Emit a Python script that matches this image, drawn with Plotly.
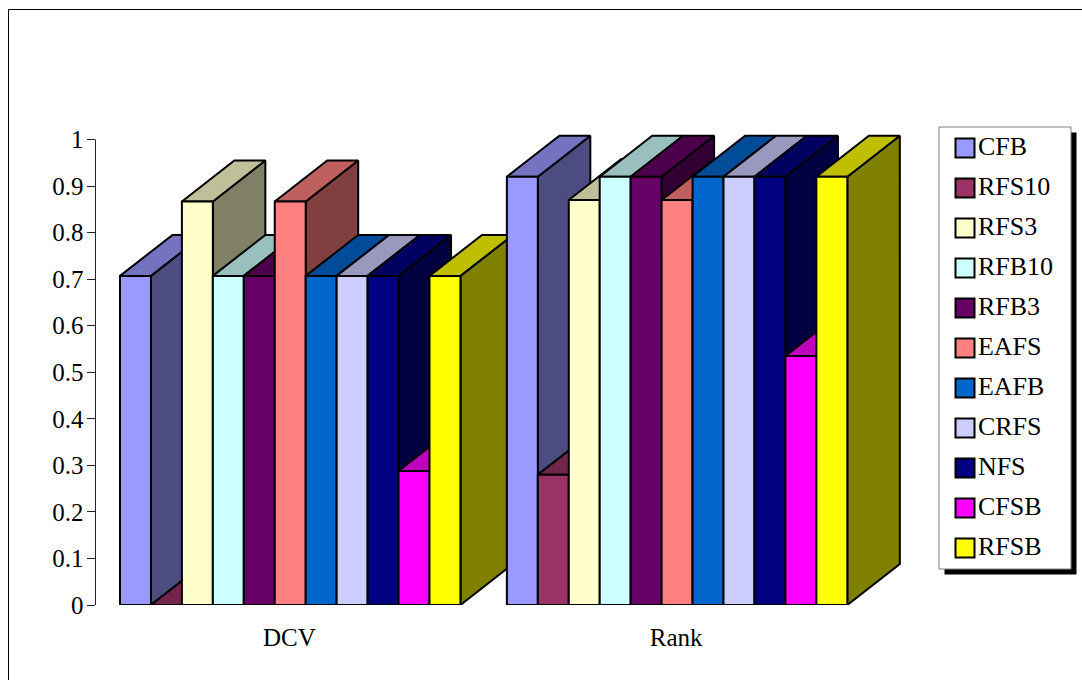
import plotly.graph_objects as go

# Feature-selection methods and their scores per evaluation scheme
methods = ["CFB", "RFS10", "RFS3", "RFB10", "RFB3", "EAFS", "EAFB", "CRFS", "NFS", "CFSB", "RFSB"]
groups = ["DCV", "Rank"]
dcv_scores = [0.707, 0.0, 0.867, 0.707, 0.707, 0.867, 0.707, 0.707, 0.707, 0.288, 0.707]
rank_scores = [0.92, 0.28, 0.87, 0.92, 0.92, 0.87, 0.92, 0.92, 0.92, 0.535, 0.92]
colors = ["#9999FF", "#993366", "#FFFFCC", "#CCFFFF", "#660066", "#FF8080",
          "#0066CC", "#CCCCFF", "#000080", "#FF00FF", "#FFFF00"]
y_ticks = [0, 0.1, 0.2, 0.3, 0.4, 0.5, 0.6, 0.7, 0.8, 0.9, 1]

WIDTH, HEIGHT = 1082, 680
BAR_PX = 30.95          # width of one bar on screen
FIRST_BAR_PX = 120      # left edge of the first bar
AXIS_PX = 95.5          # position of the value axis
ZERO_PX, ONE_PX = 605, 139.5
Y_HEADROOM = 0.05       # room above 1 for the depth of the tallest bars
GROUP_PITCH = 12.5      # group-to-group distance, in bar widths
DEPTH_X = 52.5 / BAR_PX
DEPTH_Y = 41 / (ZERO_PX - ONE_PX)
EDGE = dict(color="black", width=2)
AXIS_COLOR = "#222222"
FONT = "Liberation Serif"


def shade(hex_color, factor):
    r, g, b = (int(hex_color[i:i + 2], 16) for i in (1, 3, 5))
    return f"rgb({r * factor:.0f},{g * factor:.0f},{b * factor:.0f})"


def face(xs, ys, fill, name):
    return go.Scatter(x=xs, y=ys, mode="lines", fill="toself", fillcolor=fill, line=EDGE,
                      showlegend=False, name=name, hoverinfo="name")


fig = go.Figure()

# Extruded bars, painted left to right so each one hides the side of its neighbour
for g, (group, scores) in enumerate(zip(groups, [dcv_scores, rank_scores])):
    for i, (method, value, color) in enumerate(zip(methods, scores, colors)):
        x0 = g * GROUP_PITCH + i
        x1 = x0 + 1
        label = f"{method} / {group}: {value}"
        fig.add_trace(face([x1, x1 + DEPTH_X, x1 + DEPTH_X, x1, x1],
                           [0, DEPTH_Y, value + DEPTH_Y, value, 0],
                           shade(color, 0.5), label))
        fig.add_trace(face([x0, x1, x1 + DEPTH_X, x0 + DEPTH_X, x0],
                           [value, value, value + DEPTH_Y, value + DEPTH_Y, value],
                           shade(color, 0.75), label))
        fig.add_trace(face([x0, x1, x1, x0, x0], [0, 0, value, value, 0], color, label))

# Legend panel: one square marker and label per method
fig.add_trace(go.Scatter(
    x=[(965 - 939) / 132] * len(methods), y=list(range(len(methods))),
    xaxis="x2", yaxis="y2", mode="markers+text",
    marker=dict(symbol="square", size=19, color=colors, line=dict(color="black", width=2)),
    text=methods, textposition="middle right",
    textfont=dict(family=FONT, size=26, color="black"),
    showlegend=False, hoverinfo="text",
))


def px_x(px):
    return px / WIDTH


def px_y(px):
    return 1 - px / HEIGHT


box = dict(left=939, right=1071, top=127, bottom=569)
shadow = 5.5
rows = len(methods)
shapes = [
    # Outer chart frame, running off the right and bottom of the page
    dict(type="rect", xref="paper", yref="paper", x0=px_x(8.5), x1=1.2, y0=-0.2, y1=px_y(9.5),
         line=dict(color="black", width=1), layer="below"),
    dict(type="rect", xref="paper", yref="paper",
         x0=px_x(box["left"] + shadow), x1=px_x(box["right"] + shadow),
         y0=px_y(box["bottom"] + shadow), y1=px_y(box["top"] + shadow),
         fillcolor="black", line=dict(width=0), layer="below"),
    dict(type="rect", xref="paper", yref="paper",
         x0=px_x(box["left"]), x1=px_x(box["right"]),
         y0=px_y(box["bottom"]), y1=px_y(box["top"]),
         fillcolor="white", line=dict(color="#808080", width=1), layer="below"),
    # Value axis line stops at 1, below the headroom of the plot area
    dict(type="line", xref="x domain", yref="y", x0=0, x1=0, y0=0, y1=1,
         line=dict(color=AXIS_COLOR, width=1), layer="below"),
]

top_px = ONE_PX - Y_HEADROOM * (ZERO_PX - ONE_PX)

fig.update_layout(
    width=WIDTH, height=HEIGHT, margin=dict(l=0, r=0, t=0, b=0, autoexpand=False),
    paper_bgcolor="white", plot_bgcolor="rgba(0,0,0,0)",
    font=dict(family=FONT, size=24, color="black"),
    showlegend=False, shapes=shapes,
    xaxis=dict(
        domain=[px_x(AXIS_PX), 1], automargin=False,
        range=[(AXIS_PX - FIRST_BAR_PX) / BAR_PX, (WIDTH - FIRST_BAR_PX) / BAR_PX],
        tickmode="array",
        tickvals=[g * GROUP_PITCH + len(methods) / 2 - 0.03 for g in range(len(groups))],
        ticktext=groups, ticks="outside", ticklen=10, tickcolor="rgba(0,0,0,0)",
        showgrid=False, zeroline=False, showline=False,
        tickfont=dict(family=FONT, size=25, color="black"),
    ),
    yaxis=dict(
        domain=[px_y(ZERO_PX), px_y(top_px)], range=[0, 1 + Y_HEADROOM], automargin=False,
        tickmode="array", tickvals=y_ticks, ticktext=[f"{v:g}" for v in y_ticks],
        ticks="outside", ticklen=8, tickcolor=AXIS_COLOR, tickwidth=1,
        ticklabelstandoff=-2,
        showline=False, showgrid=False, zeroline=False,
        tickfont=dict(family=FONT, size=25, color="black"),
    ),
    xaxis2=dict(domain=[px_x(box["left"]), px_x(box["right"])], range=[0, 1],
                anchor="y2", visible=False, automargin=False),
    yaxis2=dict(domain=[px_y(box["bottom"]), px_y(box["top"])],
                range=[rows - 1 + 0.525, -0.525], anchor="x2", visible=False, automargin=False),
)

fig.write_html("out.html", config=dict(displayModeBar=False))
